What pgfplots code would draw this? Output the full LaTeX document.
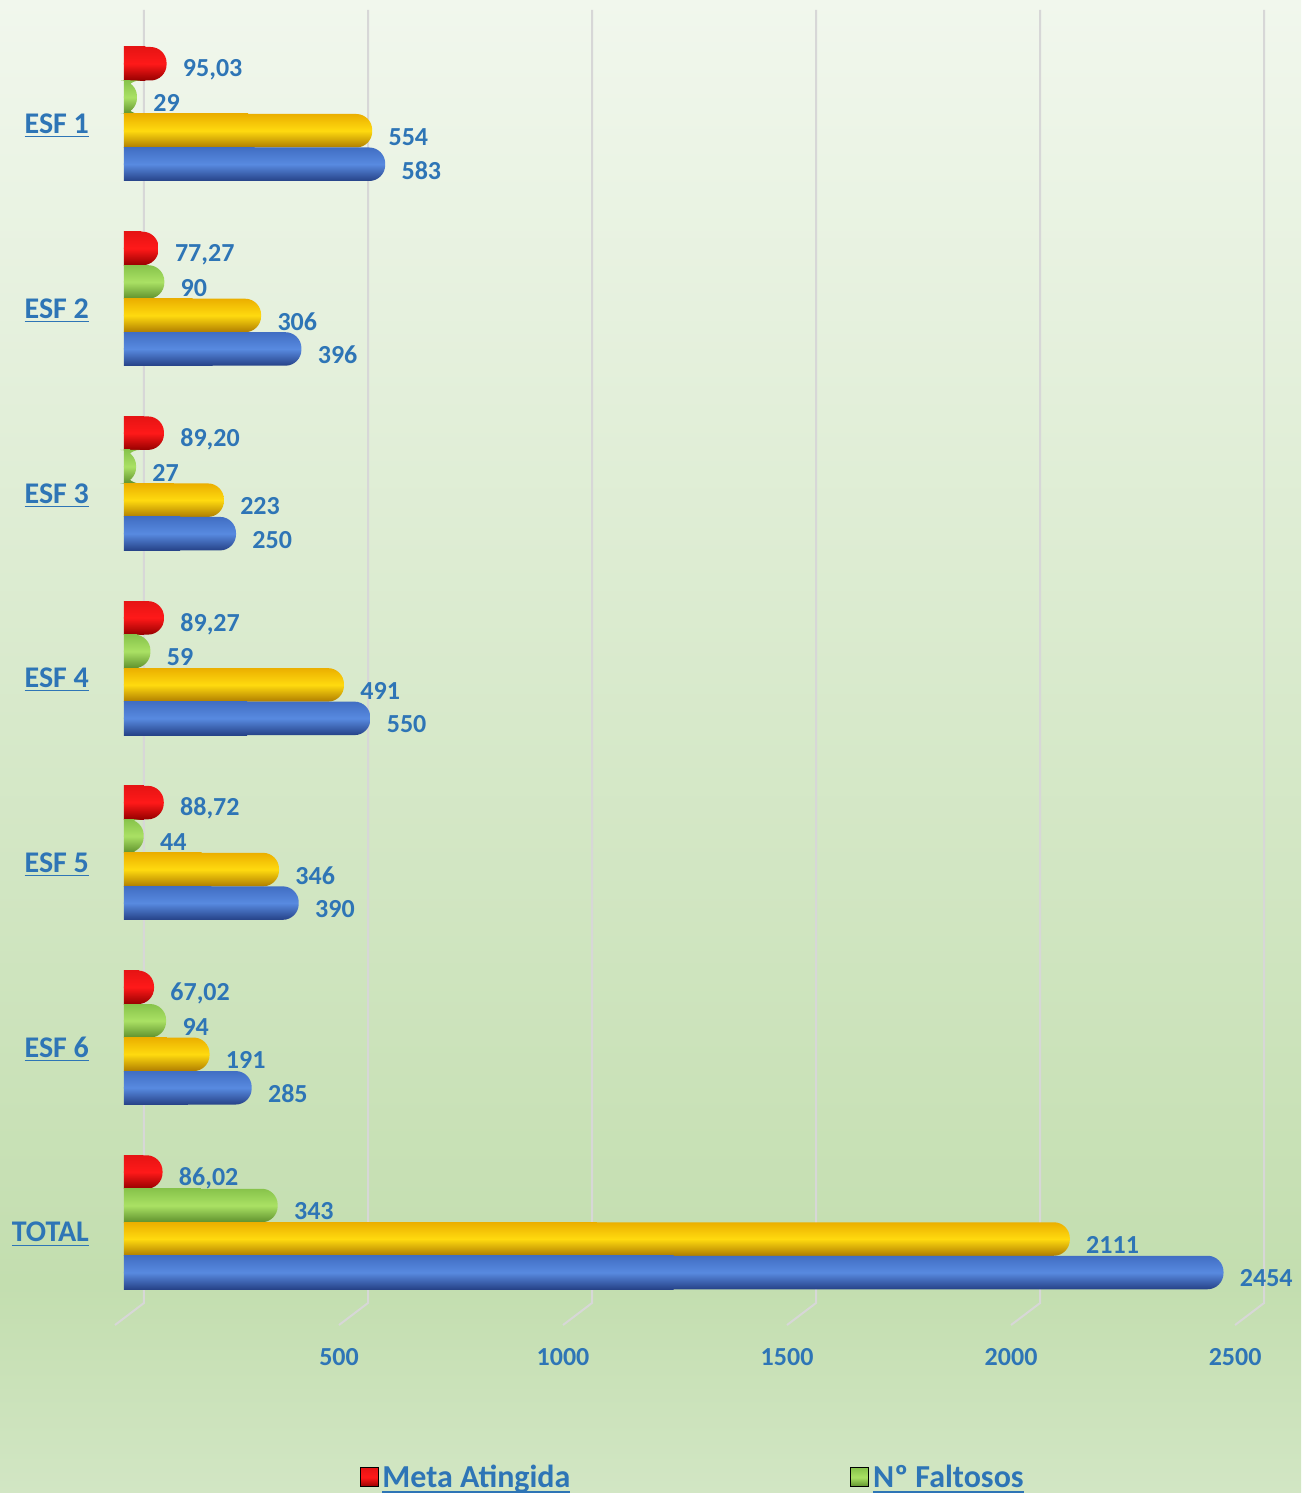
\documentclass[border=0pt]{standalone}
\usepackage{pgfplots}
\pgfplotsset{compat=1.18}
\usepackage{pgfplotstable}
\usepackage{fontspec}
\setmainfont{Carlito}
\definecolor{lblue}{RGB}{46,117,182}
\definecolor{gridc}{RGB}{215,215,215}
\definecolor{bgtop}{RGB}{241,247,237}
\definecolor{bgmid}{RGB}{195,222,175}
\definecolor{bgbot}{RGB}{210,230,196}
\definecolor{rtop}{RGB}{230,20,20}
\definecolor{rmid}{RGB}{255,25,25}
\definecolor{rbot}{RGB}{150,0,0}
\definecolor{gtop}{RGB}{135,195,75}
\definecolor{gmid}{RGB}{170,225,100}
\definecolor{gbot}{RGB}{95,145,45}
\definecolor{ytop}{RGB}{235,175,0}
\definecolor{ymid}{RGB}{255,218,15}
\definecolor{ybot}{RGB}{175,125,0}
\definecolor{btop}{RGB}{65,110,195}
\definecolor{bmid}{RGB}{88,138,224}
\definecolor{bbot}{RGB}{38,66,135}
\newsavebox{\ulbox}
\newcommand{\ul}[1]{\sbox{\ulbox}{#1}\rlap{\rule[-3.2pt]{\wd\ulbox}{1.3pt}}\usebox{\ulbox}}
\pgfplotstableread{
y red redl green yellow blue
0 95.03 95,03 29 554 583
1 77.27 77,27 90 306 396
2 89.20 89,20 27 223 250
3 89.27 89,27 59 491 550
4 88.72 88,72 44 346 390
5 67.02 67,02 94 191 285
6 86.02 86,02 343 2111 2454
}\data
\pgfplotsset{
  bb/.style={xbar, bar width=16.75pt, draw=none, forget plot},
  lbl/.style={nodes near coords, point meta=explicit symbolic,
    every node near coord/.append style={anchor=west, inner sep=0pt, xshift=8pt, yshift=#1,
      font=\bfseries\fontsize{13}{13}\selectfont, text=lblue}},
  rsh/.style={top color=rtop, bottom color=rbot, middle color=rmid},
  gsh/.style={top color=gtop, bottom color=gbot, middle color=gmid},
  ysh/.style={top color=ytop, bottom color=ybot, middle color=ymid},
  bsh/.style={top color=btop, bottom color=bbot, middle color=bmid},
}
\pgfdeclareverticalshading{bgshade}{100bp}{color(0bp)=(bgbot); color(25bp)=(bgbot); color(32bp)=(bgmid); color(75bp)=(bgtop); color(100bp)=(bgtop)}
\begin{document}
\begin{tikzpicture}
\shade[shading=bgshade] (-62pt,-96.5pt) rectangle (588.5pt,650pt);
\foreach \v in {0,500,1000,1500,2000,2500}{
  \pgfmathsetmacro{\gx}{\v/2627*588.5+10}
  \draw[gridc, line width=1pt] (\gx pt,645pt) -- (\gx pt,-1.5pt) -- ++(-14.5pt,-11pt);
}
\begin{axis}[
  at={(0,0)}, anchor=south west, scale only axis,
  width=588.5pt, height=645pt,
  xmin=0, xmax=2627, ymin=-0.563, ymax=6.421, y dir=reverse,
  axis line style={draw=none}, major tick length=0pt,
  clip=false,
  xtick={0,500,1000,1500,2000,2500},
  xticklabels={,500,1000,1500,2000,2500},
  ytick={0,1,2,3,4,5,6},
  yticklabels={\underline{ESF 1},\underline{ESF 2},\underline{ESF 3},\underline{ESF 4},\underline{ESF 5},\underline{ESF 6},\underline{TOTAL}},
  /pgf/number format/assume math mode=true,
  xticklabel style={font=\bfseries\fontsize{13}{13}\selectfont, text=lblue, xshift=-4.5pt, yshift=-20.5pt},
  yticklabel style={font=\bfseries\fontsize{15}{15}\selectfont, text=lblue, xshift=-14pt, yshift=-6pt},
  legend columns=2,
  legend style={draw=none, fill=none, at={(0.484,-0.1374)}, anchor=center,
    font=\bfseries\fontsize{16}{16}\selectfont, text=lblue,
    /tikz/every even column/.append style={column sep=138pt}},
]
\pgfplotsinvokeforeach{0,1,2,3,4,5,6}{
\addplot[bb, rsh, rounded corners=8pt, lbl=22.1pt, bar shift=25.125pt, restrict y to domain=#1:#1]
  table[x=red, y=y, meta=redl] {\data};
\addplot[bb, rsh, bar shift=25.125pt, restrict y to domain=#1:#1] table[x expr=\thisrow{red}/2, y=y] {\data};
\addplot[bb, gsh, rounded corners=8pt, lbl=5.4pt, bar shift=8.375pt, restrict y to domain=#1:#1]
  table[x=green, y=y, meta=green] {\data};
\addplot[bb, gsh, bar shift=8.375pt, restrict y to domain=#1:#1] table[x expr=\thisrow{green}/2, y=y] {\data};
\addplot[bb, ysh, rounded corners=8pt, lbl=-11.4pt, bar shift=-8.375pt, restrict y to domain=#1:#1]
  table[x=yellow, y=y, meta=yellow] {\data};
\addplot[bb, ysh, bar shift=-8.375pt, restrict y to domain=#1:#1] table[x expr=\thisrow{yellow}/2, y=y] {\data};
\addplot[bb, bsh, rounded corners=8pt, lbl=-28.1pt, bar shift=-25.125pt, restrict y to domain=#1:#1]
  table[x=blue, y=y, meta=blue] {\data};
\addplot[bb, bsh, bar shift=-25.125pt, restrict y to domain=#1:#1] table[x expr=\thisrow{blue}/2, y=y] {\data};
}
\addlegendimage{legend image code/.code={\shade[top color=rtop, bottom color=rbot, middle color=rmid] (0pt,-4.75pt) rectangle (9pt,4.75pt);}}
\addlegendentry{\ul{Meta Atingida}}
\addlegendimage{legend image code/.code={\shade[top color=gtop, bottom color=gbot, middle color=gmid] (0pt,-4.75pt) rectangle (9pt,4.75pt);}}
\addlegendentry{\ul{Nº Faltosos}}
\end{axis}
\pgfresetboundingbox
\path (-62pt,-96.5pt) rectangle (588.5pt,650pt);
\end{tikzpicture}
\end{document}
